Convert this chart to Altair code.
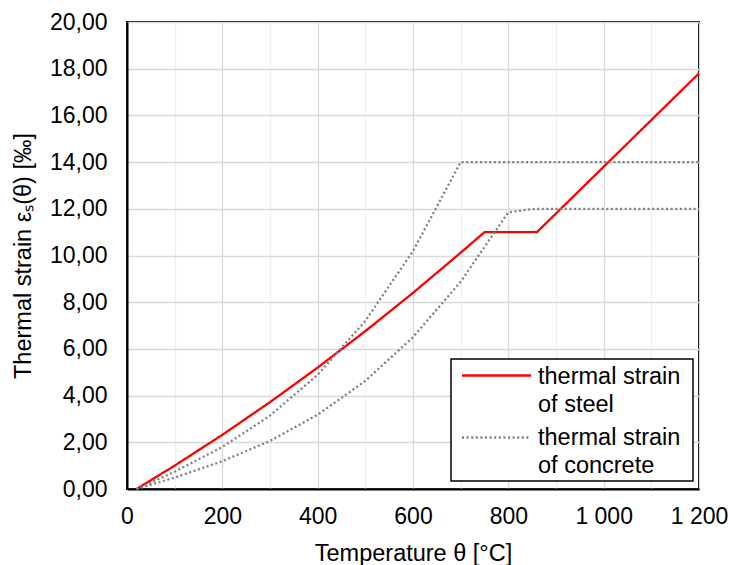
import altair as alt
import pandas as pd

# Temperature points [°C] and thermal strains [‰]
steel_t = [20, 100, 200, 300, 400, 500, 600, 700, 750, 860, 900, 1000, 1100, 1200]
steel_e = [0.0, 1.00, 2.32, 3.72, 5.20, 6.76, 8.40, 10.12, 11.0, 11.0, 11.8, 13.8, 15.8, 17.8]

conc1_t = [20, 100, 200, 300, 400, 500, 600, 700, 800, 900, 1000, 1100, 1200]
conc1_e = [0.0, 0.74, 1.80, 3.14, 4.89, 7.20, 10.19, 14.0, 14.0, 14.0, 14.0, 14.0, 14.0]

conc2_t = [20, 100, 200, 300, 400, 500, 600, 700, 800, 850, 900, 1000, 1100, 1200]
conc2_e = [0.0, 0.49, 1.19, 2.06, 3.18, 4.63, 6.50, 8.88, 11.85, 11.99, 12.0, 12.0, 12.0, 12.0]

series_names = ["thermal strain\nof steel", "thermal strain\nof concrete"]
series_colors = ["#ff0000", "#7f7f7f"]

rows = []
for t, e in zip(steel_t, steel_e):
    rows.append({"T": t, "E": e, "series": series_names[0], "curve": "steel"})
for t, e in zip(conc1_t, conc1_e):
    rows.append({"T": t, "E": e, "series": series_names[1], "curve": "siliceous"})
for t, e in zip(conc2_t, conc2_e):
    rows.append({"T": t, "E": e, "series": series_names[1], "curve": "calcareous"})
df = pd.DataFrame(rows)

x_values = list(range(0, 1201, 100))
y_values = list(range(0, 21, 2))

FONT = "Liberation Sans"
TICK_FS = 23
TITLE_FS = 23.5
LEG_FS = 23.5
DOT = [2, 2.6]

lines = alt.Chart(df).mark_line(strokeWidth=2.3).encode(
    x=alt.X(
        "T:Q",
        scale=alt.Scale(domain=[0, 1200], nice=False),
        axis=alt.Axis(
            values=x_values,
            labelExpr="datum.value % 200 === 0 ? replace(format(datum.value, ','), ',', ' ') : ''",
            title="Temperature θ [°C]",
            grid=True,
            gridColor={"condition": {"test": "datum.value % 200 === 0", "value": "#d9d9d9"}, "value": "#efefef"},
            gridWidth=1.3,
            ticks=False,
            labelFlush=False,
            labelOverlap=False,
            labelPadding=16,
            labelFontSize=TICK_FS,
            titleFontSize=TITLE_FS,
            titleFontWeight="normal",
            titleY=71,
            titleBaseline="alphabetic",
            domainColor="black",
            domainWidth=2,
            labelColor="black",
            titleColor="black",
        ),
    ),
    y=alt.Y(
        "E:Q",
        scale=alt.Scale(domain=[0, 20], nice=False),
        axis=alt.Axis(
            values=y_values,
            labelExpr="replace(format(datum.value, '.2f'), '.', ',')",
            title="Thermal strain εₛ(θ) [‰]",
            grid=True,
            gridColor="#d9d9d9",
            gridWidth=1.3,
            ticks=False,
            labelFlush=False,
            labelOverlap=False,
            labelPadding=20,
            labelFontSize=TICK_FS,
            titleFontSize=TITLE_FS,
            titleFontWeight="normal",
            titleX=-104,
            titleBaseline="middle",
            domainColor="black",
            domainWidth=2,
            labelColor="black",
            titleColor="black",
        ),
    ),
    color=alt.Color(
        "series:N",
        scale=alt.Scale(domain=series_names, range=series_colors),
        legend=None,
    ),
    strokeDash=alt.StrokeDash(
        "series:N",
        scale=alt.Scale(domain=series_names, range=[[1, 0], DOT]),
        legend=None,
    ),
    detail="curve:N",
)

# ---- legend (drawn inside the plot, bottom right) ----
leg_df = pd.DataFrame({"label": series_names})

leg_box = alt.Chart(leg_df.head(1)).mark_rect(
    fill="white", stroke="black", strokeWidth=1.5
).encode(
    x=alt.value(324), x2=alt.value(566), y=alt.value(337), y2=alt.value(459)
)

leg_sym1 = alt.Chart(leg_df.head(1)).mark_rule(
    color=series_colors[0], strokeWidth=2.3
).encode(x=alt.value(335), x2=alt.value(404), y=alt.value(353.5))

leg_sym2 = alt.Chart(leg_df.head(1)).mark_rule(
    color=series_colors[1], strokeWidth=2.3, strokeDash=DOT
).encode(x=alt.value(335), x2=alt.value(404), y=alt.value(415.5))

leg_txt1 = alt.Chart(leg_df.iloc[[0]]).mark_text(
    align="left", baseline="alphabetic", lineBreak="\n", lineHeight=27.5,
    fontSize=LEG_FS, font=FONT, color="black"
).encode(x=alt.value(411), y=alt.value(362), text="label:N")

leg_txt2 = alt.Chart(leg_df.iloc[[1]]).mark_text(
    align="left", baseline="alphabetic", lineBreak="\n", lineHeight=27.5,
    fontSize=LEG_FS, font=FONT, color="black"
).encode(x=alt.value(411), y=alt.value(423), text="label:N")

chart = alt.layer(
    lines, leg_box, leg_sym1, leg_sym2, leg_txt1, leg_txt2
).properties(
    width=572,
    height=467,
    autosize=alt.AutoSizeParams(type="none"),
    padding={"left": 127, "top": 22, "right": 32, "bottom": 76},
).configure(
    font=FONT,
).configure_view(
    stroke="black",
    strokeWidth=2,
)

chart.save("out.html", embed_options={"renderer": "svg", "actions": False})
